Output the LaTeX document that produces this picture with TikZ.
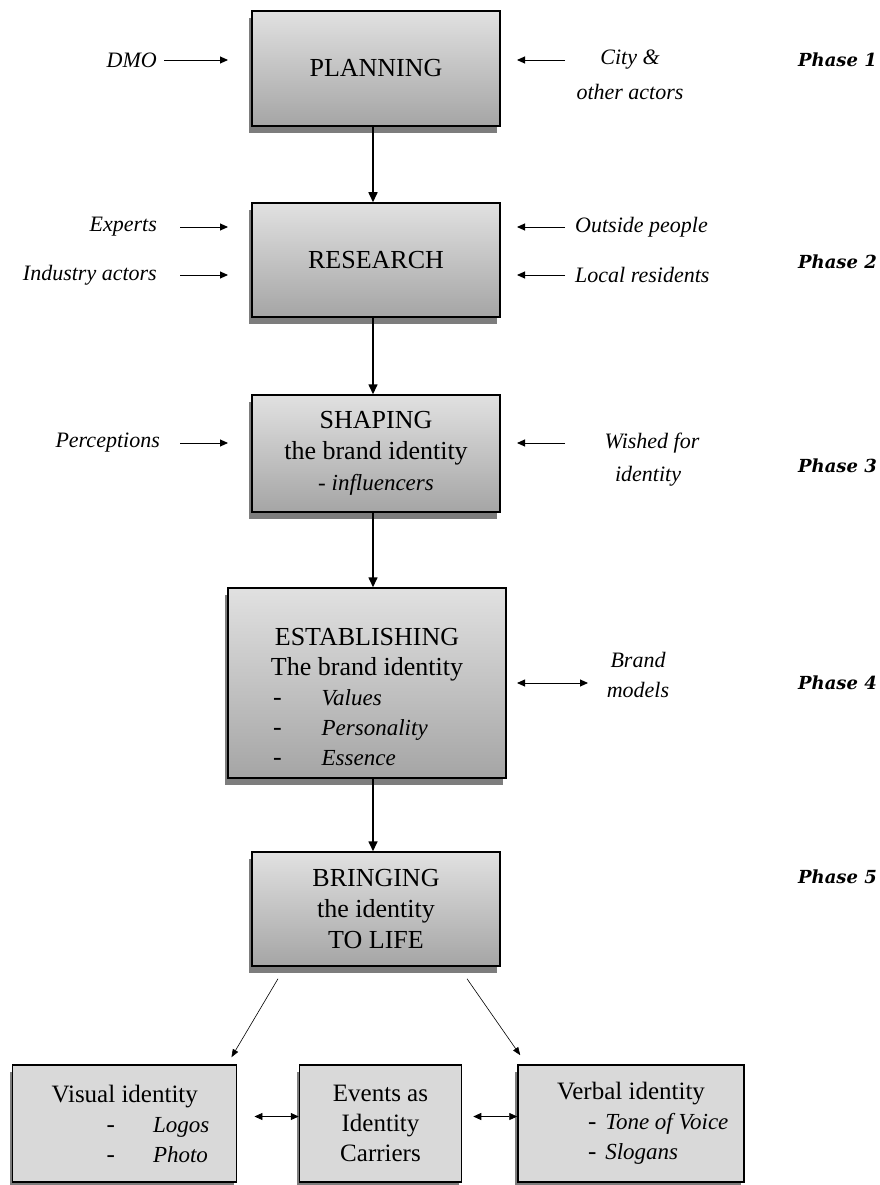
\documentclass[tikz,border=0pt]{standalone}
\usepackage{fontspec}
\setmainfont{Liberation Serif}
\newfontfamily\phasefont{DejaVu Serif}
\usetikzlibrary{arrows.meta,shadows}

\definecolor{boxtop}{RGB}{225,225,225}
\definecolor{boxbottom}{RGB}{165,165,165}
\definecolor{boxflat}{RGB}{217,217,217}
\definecolor{shadowgray}{RGB}{125,125,125}

% italic list entries inside the boxes
\newcommand\itemtext[1]{{\fontsize{23}{30}\selectfont\itshape #1}}

\begin{document}
\begin{tikzpicture}[x=1pt,y=-1pt,
  every node/.style={inner sep=0pt},
  boxshadow/.style={drop shadow={shadow xshift=-3pt,shadow yshift=-7pt,fill=shadowgray,opacity=1}},
  stagebox/.style={boxshadow,draw=black,line width=1.5pt,top color=boxtop,bottom color=boxbottom,
    align=center,font=\fontsize{26}{31}\selectfont,minimum width=248pt},
  outbox/.style={boxshadow,draw=black,line width=1.5pt,fill=boxflat,align=center,
    font=\fontsize{25}{30}\selectfont,minimum height=117pt},
  sidelabel/.style={font=\fontsize{22}{28}\selectfont\itshape},
  phaselabel/.style={anchor=east,font=\phasefont\bfseries\itshape\fontsize{18}{22}\selectfont},
  flowarrow/.style={line width=1.6pt,-{Triangle[length=10pt,width=9pt]}},
  sidearrow/.style={line width=0.9pt,-{Triangle[length=8pt,width=7pt]}},
  twoway/.style={line width=0.9pt,{Triangle[length=8pt,width=7pt]}-{Triangle[length=8pt,width=7pt]}},
  splitarrow/.style={line width=0.6pt,-{Triangle[length=8pt,width=6pt]}}]

\useasboundingbox[fill=white] (0,0) rectangle (879,1185);

% guide columns for the connectors
\coordinate (spine) at (373,0);
\coordinate (inL) at (228,0);
\coordinate (outL) at (180,0);
\coordinate (inR) at (517,0);
\coordinate (outR) at (565,0);
\coordinate (bm) at (588,0);

% main stages
\node[stagebox,minimum height=115pt] (plan) at (376,68.5) {PLANNING};
\node[stagebox,minimum height=114pt] (res) at (376,260) {RESEARCH};
\node[stagebox,minimum height=117pt] (shape) at (376,453.5)
  {SHAPING\\the brand identity\\\itemtext{- influencers}};
\node[stagebox,minimum width=278pt,minimum height=190pt] (est) at (367,683) {};
\node[align=center,font=\fontsize{26}{30}\selectfont] (esttext) at (367,697)
  {ESTABLISHING\\The brand identity\\
   \makebox[200pt][l]{\hspace*{6pt}-\hspace*{40pt}\itemtext{Values}}\\
   \makebox[200pt][l]{\hspace*{6pt}-\hspace*{40pt}\itemtext{Personality}}\\
   \makebox[200pt][l]{\hspace*{6pt}-\hspace*{40pt}\itemtext{Essence}}};
\node[stagebox,minimum height=114pt] (bring) at (376,909) {BRINGING\\the identity\\TO LIFE};

% identity carriers
\node[outbox,minimum width=224pt] (vis) at (124.7,1123.5)
  {Visual identity\\
   \makebox[150pt][l]{\hspace*{57pt}-\hspace*{38pt}\itemtext{Logos}}\\
   \makebox[150pt][l]{\hspace*{57pt}-\hspace*{38pt}\itemtext{Photo}}};
\node[outbox,minimum width=162pt] (events) at (380.5,1123.5) {Events as\\Identity\\Carriers};
\node[outbox,minimum width=226pt] (verb) at (631,1123.5)
  {Verbal identity\\
   \makebox[150pt][l]{\hspace*{32pt}-\hspace*{9pt}\itemtext{Tone of Voice}}\\
   \makebox[150pt][l]{\hspace*{32pt}-\hspace*{9pt}\itemtext{Slogans}}};

% flow between stages
\draw[flowarrow] (plan.south -| spine) -- (res.north -| spine);
\draw[flowarrow] (res.south -| spine) -- (shape.north -| spine);
\draw[flowarrow] (shape.south -| spine) -- (est.north -| spine);
\draw[flowarrow] (est.south -| spine) -- (bring.north -| spine);

% phase 1 inputs
\node[sidelabel,anchor=east] (dmo) at (157,60) {DMO};
\node[sidelabel] (city) at (630,60) {City \&};
\node[sidelabel] (others) at (630,92) {other actors};
\draw[sidearrow] ([xshift=7pt]dmo.east) -- (dmo.east -| inL);
\draw[sidearrow] (city.west -| outR) -- (city.west -| inR);

% phase 2 inputs
\node[sidelabel,anchor=east] (experts) at (157,227) {Experts};
\node[sidelabel,anchor=east] (industry) at (157,275) {Industry actors};
\node[sidelabel,anchor=west] (outside) at (575,227) {Outside people};
\node[sidelabel,anchor=west] (locals) at (575,275) {Local residents};
\draw[sidearrow] (experts.east -| outL) -- (experts.east -| inL);
\draw[sidearrow] (industry.east -| outL) -- (industry.east -| inL);
\draw[sidearrow] (outside.west -| outR) -- (outside.west -| inR);
\draw[sidearrow] (locals.west -| outR) -- (locals.west -| inR);

% phase 3 inputs
\node[sidelabel,anchor=east] (perc) at (160,443) {Perceptions};
\node[sidelabel] (wished) at (652,443) {Wished for};
\node[sidelabel] (wishedid) at (648,476) {identity};
\draw[sidearrow] (perc.east -| outL) -- (perc.east -| inL);
\draw[sidearrow] (wished.west -| outR) -- (wished.west -| inR);

% phase 4 exchange
\node[sidelabel] (brand) at (638,660) {Brand};
\node[sidelabel] (models) at (638,690) {models};
\draw[twoway] (est.east -| inR) -- (est.east -| bm);

% split into the identity carriers
\draw[splitarrow] ([xshift=-98pt,yshift=-12pt]bring.south) -- ([xshift=-6pt,yshift=7pt]vis.north east);
\draw[splitarrow] ([xshift=91pt,yshift=-12pt]bring.south) -- ([xshift=3pt,yshift=9pt]verb.north west);
\draw[twoway] ([xshift=17pt,yshift=7pt]vis.east) -- ([yshift=7pt]events.west);
\draw[twoway] ([xshift=11pt,yshift=7pt]events.east) -- ([yshift=7pt]verb.west);

% phase labels
\node[phaselabel] (p1) at (877,60) {Phase 1};
\node[phaselabel] (p2) at (877,262) {Phase 2};
\node[phaselabel] (p3) at (877,466) {Phase 3};
\node[phaselabel] (p4) at (877,683) {Phase 4};
\node[phaselabel] (p5) at (877,877) {Phase 5};
\end{tikzpicture}
\end{document}
